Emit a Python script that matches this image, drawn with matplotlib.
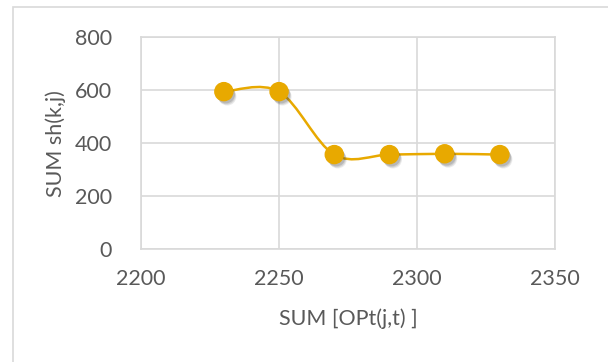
import matplotlib
matplotlib.use("Agg")
import matplotlib.pyplot as plt
import matplotlib.patheffects as pe
from matplotlib.path import Path
from matplotlib.patches import PathPatch, Rectangle
import numpy as np

# Data
opt_sum = [2230, 2250, 2270, 2290, 2310, 2330]
sh_sum = [594, 594, 357, 357, 360, 357]
x_ticks = [2200, 2250, 2300, 2350]
y_ticks = [0, 200, 400, 600, 800]
x_label = "SUM [OPt(j,t) ]"
y_label = "SUM sh(k,j)"

gold = "#E8A900"
grid_c = "#D9D9D9"
text_c = "#595959"
plt.rcParams["font.family"] = ["Lato", "DejaVu Sans"]

fig = plt.figure(figsize=(6.08, 3.62), dpi=100)
fig.patch.set_facecolor("white")
# chart-area frame
fig.patches.append(Rectangle((0.021, -0.1), 1.2, 1.08, transform=fig.transFigure,
                             fill=False, edgecolor=grid_c, linewidth=1.2))

ax = fig.add_axes([0.232, 0.311, 0.681, 0.587])
ax.set_xlim(x_ticks[0], x_ticks[-1])
ax.set_ylim(y_ticks[0], y_ticks[-1])
ax.set_xticks(x_ticks)
ax.set_yticks(y_ticks)
ax.grid(True, color=grid_c, linewidth=1.2)
ax.set_axisbelow(True)
for s in ax.spines.values():
    s.set_color(grid_c)
    s.set_linewidth(1.2)
ax.tick_params(length=0, labelsize=15.5, labelcolor=text_c)
ax.tick_params(axis="y", pad=21)
ax.tick_params(axis="x", pad=14)

# smoothed connecting line (Catmull-Rom as cubic Bezier segments)
pts = np.column_stack([opt_sum, sh_sum]).astype(float)
ext = np.vstack([pts[0], pts, pts[-1]])
verts = [tuple(pts[0])]
codes = [Path.MOVETO]
for i in range(1, len(ext) - 2):
    p0, p1, p2, p3 = ext[i - 1], ext[i], ext[i + 1], ext[i + 2]
    c1 = p1 + (p2 - p0) / 6.0
    c2 = p2 - (p3 - p1) / 6.0
    verts += [tuple(c1), tuple(c2), tuple(p2)]
    codes += [Path.CURVE4] * 3
ax.add_patch(PathPatch(Path(verts, codes), facecolor="none", edgecolor=gold,
                       linewidth=1.8, zorder=2))

# soft drop shadow built from a few offset layers
shadow = [pe.SimplePatchShadow(offset=(dx, -dy), shadow_rgbFace="#404040", alpha=a)
          for dx, dy, a in [(2.5, 3.5, 0.10), (2.0, 2.8, 0.14), (1.5, 2.0, 0.18)]]
ax.plot(opt_sum, sh_sum, linestyle="none", marker="o", markersize=13,
        markerfacecolor=gold, markeredgecolor=gold, zorder=3,
        path_effects=shadow + [pe.Normal()])

ax.set_xlabel(x_label, fontsize=15.5, color=text_c, labelpad=14)
ax.set_ylabel(y_label, fontsize=15.5, color=text_c, labelpad=6)

fig.savefig("out.png", dpi=100)
